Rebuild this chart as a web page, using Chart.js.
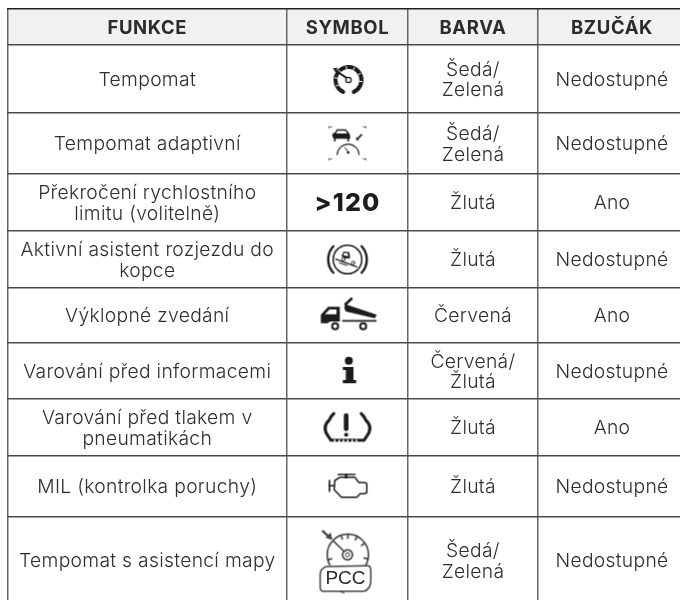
<!DOCTYPE html>
<html>
<head>
<meta charset="utf-8">
<style>
  html, body { margin: 0; padding: 0; background: #fff; }
  canvas { display: block; filter: blur(0.3px); }
</style>
<script src="https://cdn.jsdelivr.net/npm/chart.js@4"></script>
</head>
<body>
<canvas id="tabulka" width="680" height="600"></canvas>
<script>
// Obsah tabulky
const headers = ['FUNKCE', 'SYMBOL', 'BARVA', 'BZUČÁK'];
const funkce = [
  'Tempomat',
  'Tempomat adaptivní',
  'Překročení rychlostního\nlimitu (volitelně)',
  'Aktivní asistent rozjezdu do\nkopce',
  'Výklopné zvedání',
  'Varování před informacemi',
  'Varování před tlakem v\npneumatikách',
  'MIL (kontrolka poruchy)',
  'Tempomat s asistencí mapy'
];
const symboly = ['cruise', 'acc', '>120', 'hill', 'tipper', 'info', 'tpms', 'engine', 'pcc'];
const barva = ['Šedá/\nZelená', 'Šedá/\nZelená', 'Žlutá', 'Žlutá', 'Červená', 'Červená/\nŽlutá', 'Žlutá', 'Žlutá', 'Šedá/\nZelená'];
const bzucak = ['Nedostupné', 'Nedostupné', 'Ano', 'Nedostupné', 'Ano', 'Nedostupné', 'Ano', 'Nedostupné', 'Nedostupné'];

// Mřížka tabulky v pixelech stránky (poslední sloupec a řádek přesahují plátno)
const colEdges = [7.5, 287, 408, 538, 686];
const rowEdges = [9, 45, 113, 174, 231, 288, 343, 399, 456, 517, 604];

const INK = '#2e2e2e';
const BODY_FONT = '300 19.3px Inter';
const HEAD_FONT = '700 18.5px Inter';
const LINE_H = 20.5;

const colCenter = i => (colEdges[i] + colEdges[i + 1]) / 2;
const rowCenter = i => (rowEdges[i + 1] + rowEdges[i + 2]) / 2;

// Ikony: kreslí se na malé plátno a Chart.js je použije jako pointStyle
function makeIcon(draw) {
  const c = document.createElement('canvas');
  c.width = 80; c.height = 80;
  const g = c.getContext('2d');
  g.translate(40, 40);
  g.scale(1 / 3, 1 / 3);
  g.strokeStyle = '#1c1c1c';
  g.fillStyle = '#1c1c1c';
  g.lineCap = 'round';
  g.lineJoin = 'round';
  if (draw) draw(g);
  return c;
}
function line(g, pts, w) {
  g.lineWidth = w;
  g.beginPath();
  pts.forEach((p, i) => i ? g.lineTo(p[0], p[1]) : g.moveTo(p[0], p[1]));
  g.stroke();
}
function poly(g, pts) {
  g.beginPath();
  pts.forEach((p, i) => i ? g.lineTo(p[0], p[1]) : g.moveTo(p[0], p[1]));
  g.closePath();
  g.fill();
}
function ring(g, x, y, r, w, a0, a1) {
  g.lineWidth = w;
  g.beginPath();
  g.arc(x, y, r, a0 === undefined ? 0 : a0, a1 === undefined ? Math.PI * 2 : a1);
  g.stroke();
}
function white(g, fn) {
  g.save();
  g.strokeStyle = '#fff';
  g.fillStyle = '#fff';
  fn();
  g.restore();
}

const iconDraw = {
  cruise(g) {
    ring(g, 3, 3, 39, 12, 2.0 - Math.PI * 2, 1.15);
    white(g, () => {
      for (let a = -3.6; a < 0.6; a += 0.62) {
        line(g, [[3 + 33 * Math.cos(a), 3 + 33 * Math.sin(a)], [3 + 41 * Math.cos(a), 3 + 41 * Math.sin(a)]], 3);
      }
    });
    line(g, [[-4, -4], [-34, -24]], 6);
    poly(g, [[-44, -32], [-30, -34], [-34, -18]]);
    ring(g, 3, 3, 8, 4);
  },
  acc(g) {
    // rohové značky
    [[-55, -50], [55, -50], [-55, 46], [55, 46]].forEach(p => {
      line(g, [[p[0], p[1]], [p[0], p[1] + 4]], 2);
      line(g, [[p[0], p[1]], [p[0] + (p[0] < 0 ? 8 : -8), p[1]]], 2);
    });
    poly(g, [[-37, -34], [-32, -43], [-5, -43], [4, -32], [8, -24], [8, -14], [-42, -14], [-46, -24], [-44, -30]]);
    white(g, () => poly(g, [[-30, -38], [-6, -38], [-1, -30], [-34, -30]]));
    line(g, [[-38, -14], [-38, -8]], 5);
    line(g, [[2, -14], [2, -8]], 5);
    ring(g, 2, 35, 33, 3.5, Math.PI * 1.02, Math.PI * 1.98);
    line(g, [[2, 25], [-8, 12]], 3);
    g.beginPath(); g.arc(2, 27, 4, 0, Math.PI * 2); g.fill();
    line(g, [[42, -26], [32, -16]], 5);
    poly(g, [[26, -10], [26, -20], [36, -10]]);
  },
  hill(g) {
    ring(g, 0, 0, 43, 4.5);
    ring(g, 0, 0, 58, 7, Math.PI * 0.76, Math.PI * 1.24);
    ring(g, 0, 0, 58, 7, -Math.PI * 0.24, Math.PI * 0.24);
    line(g, [[-35, -1], [28, 22]], 4);
    line(g, [[-24, 10], [-1, 18]], 3);
    poly(g, [[-18, -10], [-12, -24], [6, -22], [8, -4], [-6, -3]]);
    white(g, () => poly(g, [[-10, -20], [1, -18], [2, -10], [-12, -13]]));
    ring(g, -12, -1, 5, 3);
    ring(g, 17, 10, 5, 3);
  },
  tipper(g) {
    poly(g, [[-80, 23], [-80, -2], [-58, -26], [-23, -26], [-23, 18], [-52, 18], [-60, 23]]);
    white(g, () => poly(g, [[-68, -4], [-54, -18], [-33, -18], [-33, -4]]));
    ring(g, -37, 32, 9, 6);
    ring(g, 47, 32, 9, 6);
    line(g, [[-14, 16], [85, 16]], 5);
    poly(g, [[-6, -34], [88, -2], [82, 8], [-5, -12], [-10, -24]]);
    line(g, [[-6, -34], [12, -50]], 8);
  },
  info(g) {
    g.beginPath(); g.arc(4, -31, 12, 0, Math.PI * 2); g.fill();
    poly(g, [[-14, -12], [18, -12], [18, 27], [26, 27], [26, 37], [-14, 37], [-14, 27], [-5, 27], [-5, -3], [-14, -3]]);
  },
  tpms(g) {
    g.lineWidth = 9;
    g.beginPath();
    g.moveTo(-41, -42);
    g.quadraticCurveTo(-48, -36, -55, -22);
    g.quadraticCurveTo(-78, 0, -58, 26);
    g.lineTo(-50, 38);
    g.lineTo(50, 38);
    g.lineTo(58, 26);
    g.quadraticCurveTo(78, 0, 55, -22);
    g.quadraticCurveTo(48, -36, 41, -42);
    g.stroke();
    white(g, () => {
      for (let x = -38; x < 40; x += 13) line(g, [[x, 37], [x, 44]], 4);
    });
    line(g, [[-4, -36], [-4, 4]], 14);
    g.beginPath(); g.arc(-4, 22, 6, 0, Math.PI * 2); g.fill();
  },
  engine(g) {
    line(g, [[-28, -36], [22, -36]], 5);
    line(g, [[-4, -34], [-4, -28]], 8);
    g.lineWidth = 4.5;
    g.beginPath();
    g.moveTo(-38, -18);
    g.lineTo(-22, -28);
    g.lineTo(22, -28);
    g.lineTo(34, -12);
    g.lineTo(48, -12);
    g.quadraticCurveTo(58, -12, 58, -6);
    g.lineTo(58, 16);
    g.quadraticCurveTo(58, 22, 48, 22);
    g.lineTo(38, 22);
    g.lineTo(28, 32);
    g.lineTo(-18, 32);
    g.lineTo(-40, 10);
    g.closePath();
    g.stroke();
    line(g, [[-54, -18], [-54, 14]], 5);
    line(g, [[-54, -2], [-40, -2]], 4.5);
  },
  pcc(g) {
    g.strokeStyle = '#444';
    g.fillStyle = '#444';
    ring(g, 1, -17, 62, 5);
    ring(g, 0, -17, 15, 5);
    ring(g, 0, -17, 6, 3);
    line(g, [[-10, -27], [-42, -58]], 5);
    [-1.9, -1.57, -1.1, -0.6, 0.2, 2.9].forEach(a => {
      line(g, [[1 + 50 * Math.cos(a), -17 + 50 * Math.sin(a)], [1 + 60 * Math.cos(a), -17 + 60 * Math.sin(a)]], 5);
    });
    line(g, [[-50, -66], [-74, -88]], 7);
    poly(g, [[-46, -62], [-66, -68], [-50, -84]]);
    white(g, () => { g.beginPath(); g.rect(-84, 14, 158, 80); g.fill(); });
    g.lineWidth = 4.5;
    g.beginPath();
    g.moveTo(-62, 18);
    g.lineTo(60, 16);
    g.quadraticCurveTo(70, 16, 70, 30);
    g.lineTo(70, 66);
    g.quadraticCurveTo(66, 88, 50, 92);
    g.lineTo(-72, 92);
    g.quadraticCurveTo(-82, 92, -82, 80);
    g.lineTo(-82, 40);
    g.quadraticCurveTo(-80, 22, -62, 18);
    g.stroke();
    line(g, [[-24, 92], [-10, 98]], 3);
  }
};

const iconImages = symboly.map(s => makeIcon(iconDraw[s]));
// Symboly, které jsou text: kreslí je plugin níže
const symbolText = symboly.map(s => s === '>120' ? s : '');

// Text buněk se kreslí na pozice bodů, které spočítal Chart.js
const cellText = {
  id: 'cellText',
  beforeDraw(chart) {
    const { ctx } = chart;
    const x = chart.scales.x, y = chart.scales.y;
    ctx.save();
    ctx.fillStyle = '#eff1f3';
    ctx.fillRect(x.getPixelForValue(colEdges[0]), y.getPixelForValue(rowEdges[0]), chart.width, y.getPixelForValue(rowEdges[1]) - y.getPixelForValue(rowEdges[0]));
    ctx.restore();
  },
  afterDatasetsDraw(chart) {
    const { ctx } = chart;
    ctx.save();
    ctx.textAlign = 'center';
    ctx.textBaseline = 'middle';
    chart.data.datasets.forEach((ds, d) => {
      if (!ds.texts) return;
      const meta = chart.getDatasetMeta(d);
      ctx.font = ds.font;
      ctx.letterSpacing = ds.spacing || '0px';
      ctx.fillStyle = ds.ink;
      meta.data.forEach((pt, i) => {
        const lines = ds.texts[i].split('\n');
        lines.forEach((t, n) => {
          ctx.fillText(t, pt.x, pt.y + 1 + (n - (lines.length - 1) / 2) * LINE_H);
        });
      });
    });
    // PCC v rámečku ikony
    const last = chart.getDatasetMeta(0).data[symboly.indexOf('pcc')];
    ctx.font = '500 19px "Liberation Sans"';
    ctx.letterSpacing = '0px';
    ctx.fillStyle = '#2a2a2a';
    ctx.fillText('PCC', last.x - 2, last.y + 18);
    ctx.restore();
  }
};

function textSet(values, col, font, ink, spacing) {
  return {
    data: values.map((v, i) => ({ x: colCenter(col), y: rowCenter(i) })),
    texts: values, font, ink, spacing, pointRadius: 0
  };
}

new Chart(document.getElementById('tabulka').getContext('2d'), {
  type: 'scatter',
  data: {
    datasets: [
      {
        data: symboly.map((v, i) => ({ x: colCenter(1), y: rowCenter(i) })),
        pointStyle: iconImages,
        pointRadius: 1
      },
      textSet(funkce, 0, BODY_FONT, INK, '0.3px'),
      textSet(symbolText, 1, '800 25px Inter', '#1c1c1c', '1.2px'),
      textSet(barva, 2, BODY_FONT, INK, '0.3px'),
      textSet(bzucak, 3, BODY_FONT, INK, '0.3px'),
      {
        data: headers.map((v, i) => ({ x: colCenter(i), y: (rowEdges[0] + rowEdges[1]) / 2 })),
        texts: headers, font: HEAD_FONT, ink: '#2b2b2b', spacing: '0.6px', pointRadius: 0
      }
    ]
  },
  options: {
    responsive: false,
    animation: false,
    events: [],
    clip: false,
    layout: { autoPadding: false, padding: { left: 7, top: 9, right: 0, bottom: 0 } },
    plugins: { legend: { display: false }, tooltip: { enabled: false } },
    scales: {
      x: {
        type: 'linear', min: 7, max: 680,
        afterBuildTicks: s => { s.ticks = colEdges.map(value => ({ value })); },
        ticks: { display: false, autoSkip: false },
        border: { display: false },
        grid: { color: '#666666', lineWidth: 1.5, drawTicks: false }
      },
      y: {
        type: 'linear', min: 9, max: 600, reverse: true,
        afterBuildTicks: s => { s.ticks = rowEdges.map(value => ({ value })); },
        ticks: { display: false, autoSkip: false },
        border: { display: false },
        grid: {
          color: c => c.tick && c.tick.value === rowEdges[0] ? '#222222' : '#4a4a4a',
          lineWidth: 1.5, drawTicks: false
        }
      }
    }
  },
  plugins: [cellText]
});
</script>
</body>
</html>
